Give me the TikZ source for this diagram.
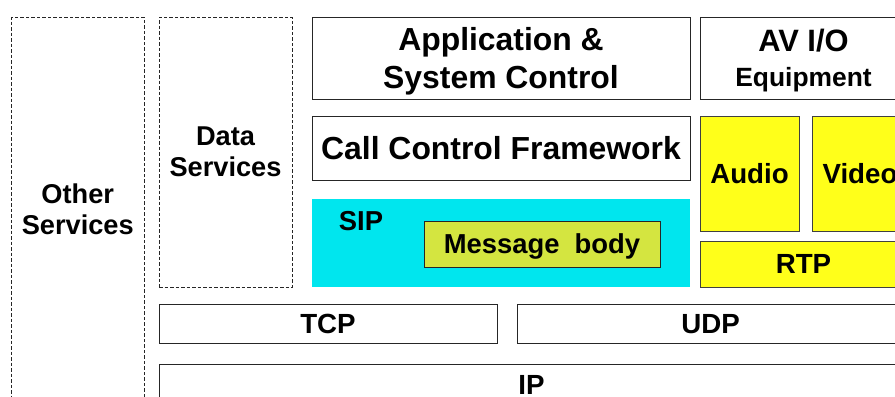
\documentclass[tikz,border=0pt]{standalone}
\usepackage{fontspec}
\setmainfont{Liberation Sans}
\definecolor{sipcyan}{HTML}{00E6EE}
\definecolor{avyellow}{HTML}{FFFF1A}
\definecolor{msggreen}{HTML}{D4E540}
\begin{document}
\begin{tikzpicture}[x=1bp,y=-1bp,
  box/.style={draw=black!85, line width=0.8bp, rectangle, inner sep=0pt,
    align=center, text depth=0pt, font=\bfseries\fontsize{27.8}{31}\selectfont},
  bigbox/.style={box, font=\bfseries\fontsize{32}{39}\selectfont},
  dbox/.style={box, draw=black!85, dash pattern=on 3.5bp off 2bp,
    font=\bfseries\fontsize{27.3}{31}\selectfont},
  ybox/.style={box, fill=avyellow, draw=black!75},
]
\useasboundingbox (0,0) rectangle (895,396);
\clip (0,0) rectangle (895,396);
\fill[white] (0,0) rectangle (895,396);

\node[dbox, minimum width=132.5bp, minimum height=385bp] (other) at (77.75,209.5) {Other\\Services};
\node[dbox, minimum width=133bp, minimum height=270bp] (data) at (225.5,152) {Data\\Services};

\node[bigbox, minimum width=378bp, minimum height=82bp] (app) at (501,58) {Application \&\\System Control};
\node[bigbox, minimum width=207bp, minimum height=82bp,
  font=\bfseries\fontsize{31}{35}\selectfont] (av) at (803.5,58)
  {AV I/O\\{\fontsize{26.5}{30}\selectfont Equipment}};

\node[bigbox, minimum width=378bp, minimum height=64bp] (ccf) at (501,148) {Call Control Framework};

\node[box, draw=none, fill=sipcyan, minimum width=378bp, minimum height=88bp] (sip) at (501,243) {};
\node[font=\bfseries\fontsize{27.5}{31}\selectfont, inner sep=0pt, text depth=0pt] (siplabel) at (361,221) {SIP};
\node[box, fill=msggreen, draw=black!85, minimum width=236bp, minimum height=46bp,
  font=\bfseries\fontsize{27.5}{30}\selectfont] (msg) at (542,244) {Message\ \ body};

\node[ybox, minimum width=99bp, minimum height=115bp] (audio) at (749.5,173.5) {Audio};
\node[ybox, minimum width=96bp, minimum height=115bp] (video) at (860,173.5) {Video};
\node[ybox, minimum width=207bp, minimum height=46bp] (rtp) at (803.5,264) {RTP};

\node[box, minimum width=338bp, minimum height=39bp] (tcp) at (328,323.5) {TCP};
\node[box, minimum width=387bp, minimum height=39bp] (udp) at (710.5,323.5) {UDP};
\node[box, minimum width=745bp, minimum height=41bp] (ip) at (531.5,384.5) {IP};
\end{tikzpicture}
\end{document}
